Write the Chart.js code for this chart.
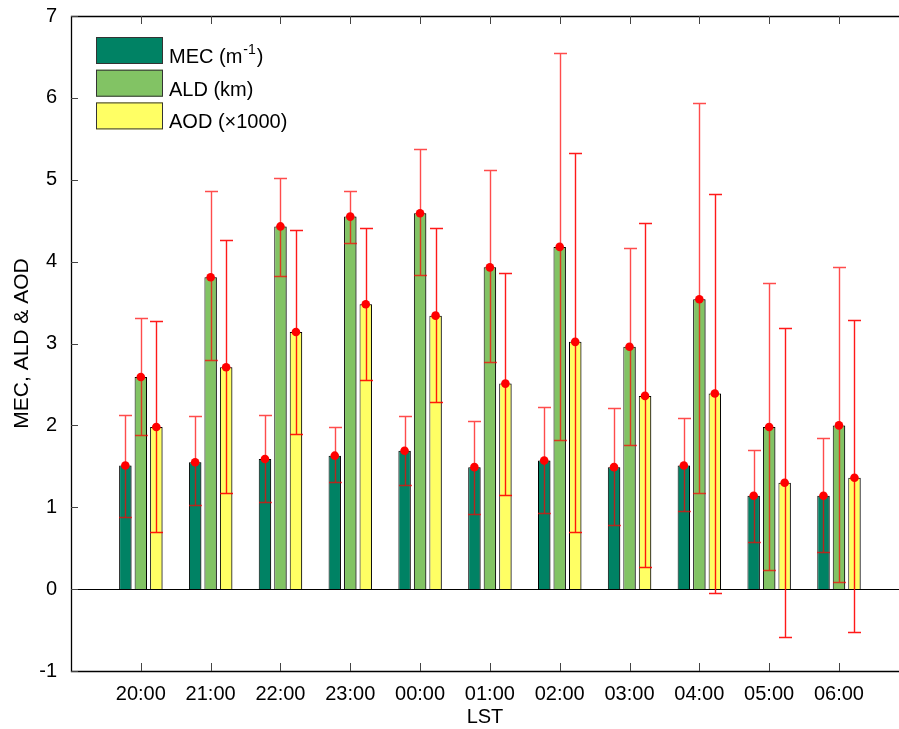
<!DOCTYPE html>
<html>
<head>
<meta charset="utf-8">
<script src="https://cdn.jsdelivr.net/npm/chart.js@4.4.1/dist/chart.umd.min.js"></script>
<style>
  html, body { margin: 0; padding: 0; background: #fff; overflow: hidden; }
</style>
</head>
<body>
<canvas id="chart" width="899" height="729"></canvas>
<script>
// Hours (local solar time)
const hours = ['20:00', '21:00', '22:00', '23:00', '00:00', '01:00', '02:00', '03:00', '04:00', '05:00', '06:00'];

// MEC (m^-1) mean and error range
const mec     = [1.51, 1.55, 1.59, 1.63, 1.69, 1.49, 1.57, 1.49, 1.51, 1.14, 1.14];
const mecLow  = [0.88, 1.03, 1.07, 1.31, 1.27, 0.92, 0.93, 0.78, 0.96, 0.58, 0.45];
const mecHigh = [2.13, 2.11, 2.13, 1.98, 2.11, 2.05, 2.23, 2.21, 2.09, 1.70, 1.84];

// ALD (km)
const ald     = [2.59, 3.81, 4.43, 4.55, 4.59, 3.93, 4.18, 2.96, 3.54, 1.98, 2.00];
const aldLow  = [1.88, 2.80, 3.82, 4.23, 3.84, 2.78, 1.82, 1.76, 1.17, 0.23, 0.09];
const aldHigh = [3.31, 4.86, 5.02, 4.86, 5.37, 5.12, 6.55, 4.17, 5.94, 3.74, 3.94];

// AOD (x1000)
const aod     = [1.98, 2.71, 3.14, 3.48, 3.34, 2.51, 3.02, 2.36, 2.39, 1.30, 1.36];
const aodLow  = [0.70, 1.17, 1.90, 2.55, 2.29, 1.15, 0.70, 0.27, -0.05, -0.58, -0.52];
const aodHigh = [3.27, 4.27, 4.39, 4.41, 4.41, 3.86, 5.33, 4.47, 4.83, 3.19, 3.29];

const yTicks = [-1, 0, 1, 2, 3, 4, 5, 6, 7];

const colors = ['#008264', '#82C364', '#FFFF64'];
const errColors = ['rgba(255,0,0,0.7)', 'rgba(255,0,0,0.7)', 'rgba(255,0,0,0.9)'];
const FONT = "'Liberation Sans', Arial, sans-serif";

const toPoints = arr => arr.map((v, i) => ({ x: i + 1, y: v }));
const errs = [
  { low: mecLow, high: mecHigh, mean: mec },
  { low: aldLow, high: aldHigh, mean: ald },
  { low: aodLow, high: aodHigh, mean: aod }
];

const overlay = {
  id: 'overlay',
  beforeDatasetsDraw(chart) {
    const ctx = chart.ctx;
    ctx.save();
    ctx.shadowColor = 'rgba(0,0,0,0.35)';
    ctx.shadowOffsetX = 2;
    ctx.shadowOffsetY = 0;
    ctx.shadowBlur = 0;
  },
  afterDatasetsDraw(chart) {
    const ctx = chart.ctx;
    ctx.restore();
    const { chartArea: a, scales: { x, y } } = chart;

    // zero line
    const y0 = Math.round(y.getPixelForValue(0)) + 0.5;
    ctx.save();
    ctx.strokeStyle = '#000';
    ctx.lineWidth = 1;
    ctx.beginPath();
    ctx.moveTo(a.left, y0);
    ctx.lineTo(a.right, y0);
    ctx.stroke();
    ctx.restore();

    // error bars
    errs.forEach((e, d) => {
      const meta = chart.getDatasetMeta(d);
      meta.data.forEach((bar, i) => {
        const cx = Math.round(bar.x) + 0.5;
        const top = Math.round(y.getPixelForValue(e.high[i])) + 0.5;
        const bot = Math.round(y.getPixelForValue(e.low[i])) + 0.5;
        ctx.save();
        ctx.strokeStyle = errColors[d];
        ctx.lineWidth = 1.4;
        ctx.beginPath();
        ctx.moveTo(cx, top); ctx.lineTo(cx, bot);
        ctx.moveTo(cx - 6.5, top); ctx.lineTo(cx + 6.5, top);
        ctx.moveTo(cx - 6.5, bot); ctx.lineTo(cx + 6.5, bot);
        ctx.stroke();
        ctx.restore();
      });
    });

    // mean dots
    errs.forEach((e, d) => {
      const meta = chart.getDatasetMeta(d);
      meta.data.forEach((bar, i) => {
        ctx.save();
        ctx.fillStyle = '#FF0000';
        ctx.beginPath();
        ctx.arc(bar.x, y.getPixelForValue(e.mean[i]), 4.3, 0, Math.PI * 2);
        ctx.fill();
        ctx.restore();
      });
    });
  },
  afterDraw(chart) {
    const ctx = chart.ctx;
    const { chartArea: a, scales: { x, y } } = chart;
    ctx.save();

    // frame (left, top, bottom)
    ctx.strokeStyle = '#000';
    ctx.lineWidth = 1.3;
    ctx.beginPath();
    ctx.moveTo(a.right, a.top + 0.5);
    ctx.lineTo(a.left + 0.5, a.top + 0.5);
    ctx.lineTo(a.left + 0.5, a.bottom + 0.5);
    ctx.lineTo(a.right, a.bottom + 0.5);
    ctx.stroke();

    // inward ticks
    ctx.strokeStyle = '#444';
    ctx.lineWidth = 1;
    ctx.beginPath();
    yTicks.forEach(v => {
      const py = Math.round(y.getPixelForValue(v)) + 0.5;
      ctx.moveTo(a.left, py); ctx.lineTo(a.left + 7, py);
    });
    hours.forEach((h, i) => {
      const px = Math.round(x.getPixelForValue(i + 1)) + 0.5;
      ctx.moveTo(px, a.bottom); ctx.lineTo(px, a.bottom - 8);
      ctx.moveTo(px, a.top); ctx.lineTo(px, a.top + 8);
    });
    ctx.stroke();

    // legend
    const items = [
      { label: 'MEC (m', sup: '-1', tail: ')' },
      { label: 'ALD (km)' },
      { label: 'AOD (\u00d71000)' }
    ];
    items.forEach((it, k) => {
      const top = 37 + k * 32.7;
      ctx.fillStyle = colors[k];
      ctx.fillRect(96, top, 67, 27);
      ctx.strokeStyle = '#333';
      ctx.lineWidth = 1;
      ctx.strokeRect(96.5, top + 0.5, 66, 26);
      ctx.fillStyle = '#000';
      ctx.textBaseline = 'alphabetic';
      ctx.textAlign = 'left';
      ctx.font = '20px ' + FONT;
      const base = top + 26;
      ctx.fillText(it.label, 169, base);
      if (it.sup) {
        let tx = 169 + ctx.measureText(it.label).width;
        ctx.font = '14px ' + FONT;
        ctx.fillText(it.sup, tx + 1, base - 9);
        tx += ctx.measureText(it.sup).width + 2;
        ctx.font = '20px ' + FONT;
        ctx.fillText(it.tail, tx, base);
      }
    });
    ctx.restore();
  }
};

new Chart(document.getElementById('chart').getContext('2d'), {
  type: 'bar',
  data: {
    datasets: [
      { label: 'MEC', data: toPoints(mec), backgroundColor: colors[0], borderColor: '#000', borderWidth: 1 },
      { label: 'ALD', data: toPoints(ald), backgroundColor: colors[1], borderColor: '#000', borderWidth: 1 },
      { label: 'AOD', data: toPoints(aod), backgroundColor: colors[2], borderColor: '#000', borderWidth: 1 }
    ]
  },
  options: {
    responsive: false,
    devicePixelRatio: 1,
    animation: false,
    categoryPercentage: 0.666,
    barPercentage: 0.8,
    layout: { padding: { top: 16, right: 0, left: 0, bottom: 0 } },
    plugins: {
      legend: { display: false },
      tooltip: { enabled: false }
    },
    scales: {
      x: {
        type: 'linear',
        min: 0,
        max: 11.86,
        offset: false,
        grid: { display: false, drawTicks: false },
        border: { display: false },
        afterBuildTicks: s => { s.ticks = hours.map((_, i) => ({ value: i + 1 })); },
        ticks: {
          padding: 11,
          color: '#000',
          autoSkip: false,
          maxRotation: 0,
          font: { family: FONT, size: 20 },
          callback: v => hours[v - 1] || ''
        },
        title: {
          display: true,
          text: 'LST',
          color: '#000',
          font: { family: FONT, size: 20 },
          padding: { top: 0, bottom: 0 }
        },
        afterFit: s => { s.height = 58; s.paddingLeft = 0; s.paddingRight = 0; }
      },
      y: {
        min: -1,
        max: 7,
        grid: { display: false, drawTicks: false },
        border: { display: false },
        ticks: {
          stepSize: 1,
          padding: 14,
          color: '#000',
          font: { family: FONT, size: 20 }
        },
        title: {
          display: true,
          text: 'MEC, ALD & AOD',
          color: '#000',
          font: { family: FONT, size: 21 },
          padding: { top: 10, bottom: 0 }
        },
        afterFit: s => { s.width = 71; s.paddingTop = 0; s.paddingBottom = 0; }
      }
    }
  },
  plugins: [overlay]
});
</script>
</body>
</html>
